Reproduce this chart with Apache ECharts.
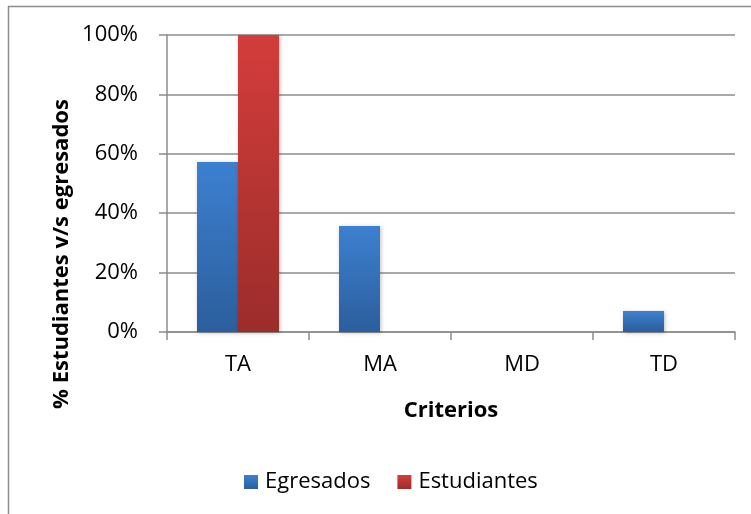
<!DOCTYPE html>
<html><head><meta charset="utf-8">
<script src="https://cdn.jsdelivr.net/npm/echarts@6/dist/echarts.min.js"></script>
<style>html,body{margin:0;padding:0;background:#fff}#c{width:751px;height:514px}</style>
</head><body><div id="c"></div>
<script>
const categories = ['TA', 'MA', 'MD', 'TD'];
const egresados = [57.2, 35.7, 0, 7.1];
const estudiantes = [100, 0, 0, 0];
const yTicks = [0, 20, 40, 60, 80, 100];

const FONT = 'Open Sans';
const chart = echarts.init(document.getElementById('c'), null, {renderer: 'canvas'});
function grad(top, bottom) {
  return new echarts.graphic.LinearGradient(0, 0, 0, 1, [{offset: 0, color: top}, {offset: 1, color: bottom}]);
}
chart.setOption({
  animation: false,
  backgroundColor: '#fff',
  textStyle: {fontFamily: FONT},
  grid: {left: 167, right: 16, top: 35, bottom: 182},
  legend: {
    data: ['Egresados', 'Estudiantes'],
    top: 466, left: 239,
    itemWidth: 14, itemHeight: 14, itemGap: 27,
    icon: 'rect',
    textStyle: {fontSize: 22, color: '#000', fontFamily: FONT, padding: [0, 0, 0, 2]}
  },
  xAxis: {
    type: 'category', data: categories,
    axisLine: {lineStyle: {color: '#8c8c8c', width: 1.5}},
    axisTick: {show: true, length: 8, lineStyle: {color: '#8c8c8c', width: 1.5}},
    axisLabel: {fontSize: 22, color: '#000', margin: 22},
    name: 'Criterios', nameLocation: 'middle', nameGap: 68,
    nameTextStyle: {fontSize: 22, fontWeight: 'bold', color: '#000'}
  },
  yAxis: {
    type: 'value', min: 0, max: 100, interval: 20,
    axisLine: {show: true, lineStyle: {color: '#8c8c8c', width: 1.5}},
    axisTick: {show: true, length: 8, lineStyle: {color: '#8c8c8c', width: 1.5}},
    splitLine: {lineStyle: {color: '#8c8c8c', width: 1.5}},
    axisLabel: {fontSize: 22, color: '#000', margin: 29,
      formatter: v => yTicks.includes(v) ? v + '%' : ''}
  },
  series: [
    {name: 'Egresados', type: 'bar', data: egresados, barWidth: 41, barGap: '0%',
      itemStyle: {color: grad('#3d80d0', '#2b5e9c'), shadowColor: 'rgba(0,0,0,0.25)', shadowBlur: 4, shadowOffsetX: 1, shadowOffsetY: 1}},
    {name: 'Estudiantes', type: 'bar', data: estudiantes, barWidth: 41, barGap: '0%',
      itemStyle: {color: grad('#d33d3b', '#9b2d2b'), shadowColor: 'rgba(0,0,0,0.25)', shadowBlur: 4, shadowOffsetX: 1, shadowOffsetY: 1}}
  ],
  graphic: [
    {type: 'line', shape: {x1: 8, y1: 6.5, x2: 751, y2: 6.5}, style: {stroke: '#8c8c8c', lineWidth: 1.5}},
    {type: 'line', shape: {x1: 8.5, y1: 6, x2: 8.5, y2: 514}, style: {stroke: '#8c8c8c', lineWidth: 1.5}},
    {type: 'text', x: 62, y: 254, rotation: Math.PI / 2,
      style: {text: '% Estudiantes v/s egresados', font: 'bold 22px "Open Sans"', fill: '#000', align: 'center', verticalAlign: 'middle'}}
  ]
});
</script></body></html>
